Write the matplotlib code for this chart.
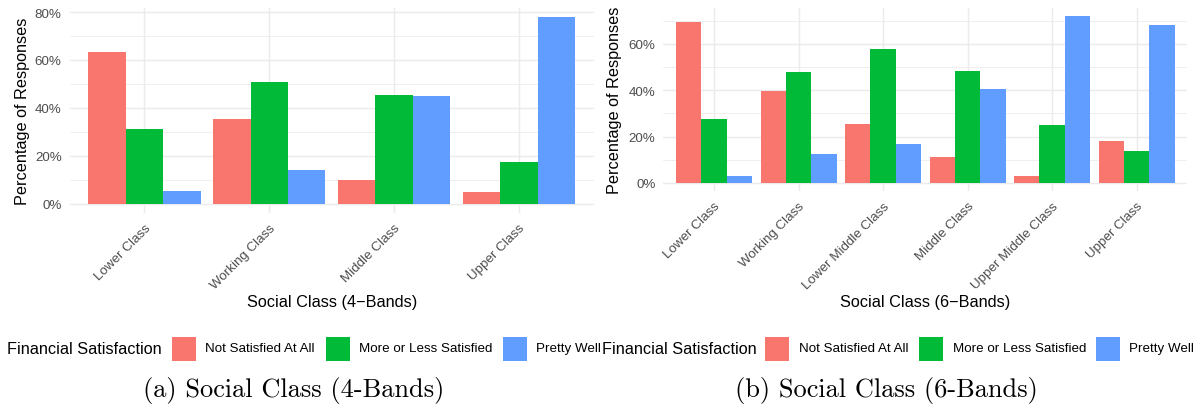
import matplotlib
matplotlib.use("Agg")
import matplotlib.pyplot as plt
from matplotlib.patches import Rectangle
import numpy as np

# ---- data -------------------------------------------------------------
satisfaction_levels = ["Not Satisfied At All", "More or Less Satisfied", "Pretty Well"]
satisfaction_colors = ["#F8766D", "#00BA38", "#619CFF"]

classes_4 = ["Lower Class", "Working Class", "Middle Class", "Upper Class"]
not_satisfied_4 = [63.4, 35.4, 9.9, 4.9]
more_or_less_4 = [31.2, 50.9, 45.4, 17.4]
pretty_well_4 = [5.3, 14.1, 45.0, 78.0]

classes_6 = ["Lower Class", "Working Class", "Lower Middle Class",
             "Middle Class", "Upper Middle Class", "Upper Class"]
not_satisfied_6 = [69.5, 39.7, 25.5, 11.2, 3.0, 18.1]
more_or_less_6 = [27.6, 47.9, 57.8, 48.3, 25.0, 13.8]
pretty_well_6 = [3.0, 12.5, 16.8, 40.6, 72.1, 68.2]

legend_title = "Financial Satisfaction"
y_title = "Percentage of Responses"
x_title_4 = "Social Class (4\u2212Bands)"
x_title_6 = "Social Class (6\u2212Bands)"
caption_4 = "(a) Social Class (4-Bands)"
caption_6 = "(b) Social Class (6-Bands)"

# ---- style -----------------------------------------------------------
W, H = 1204, 410
SANS = "Liberation Sans"
TICK_PT = 9.6
TITLE_PT = 11.7
CAPTION_PT = 19.0
GRID = "#EBEBEB"

fig = plt.figure(figsize=(W / 100, H / 100), dpi=100)
fig.patch.set_facecolor("white")


def fx(x):
    return x / W


def fy(y):
    return 1 - y / H


def add_panel(left, top, right, bottom):
    return fig.add_axes([fx(left), fy(bottom), fx(right - left), (bottom - top) / H])


def draw_bars(ax, categories, series, yticks):
    n = len(categories)
    x = np.arange(1, n + 1)
    width = 0.3
    offsets = [-width, 0.0, width]
    for vals, col, off in zip(series, satisfaction_colors, offsets):
        ax.bar(x + off, vals, width=width, color=col, linewidth=0, zorder=3)

    ymax = max(max(s) for s in series)
    ax.set_ylim(-0.05 * ymax, 1.05 * ymax)
    ax.set_xlim(0.4, n + 0.6)

    ax.set_xticks(x)
    ax.set_xticklabels(categories, rotation=45, ha="right", va="top",
                       rotation_mode="anchor", fontsize=TICK_PT,
                       family=SANS, color="#4D4D4D")
    ax.set_yticks(yticks)
    ax.set_yticklabels([f"{t}%" for t in yticks], fontsize=TICK_PT,
                       family=SANS, color="#4D4D4D")
    minor = [t + 10 for t in yticks if t + 10 <= 1.05 * ymax]
    ax.set_yticks(minor, minor=True)

    ax.tick_params(axis="both", which="both", length=0)
    ax.tick_params(axis="y", pad=5.6)
    ax.tick_params(axis="x", pad=6.0)

    ax.grid(True, which="major", axis="both", color=GRID, linewidth=1.05, zorder=0)
    ax.grid(True, which="minor", axis="y", color=GRID, linewidth=0.55, zorder=0)
    ax.set_axisbelow(True)
    for s in ax.spines.values():
        s.set_visible(False)
    ax.set_facecolor("white")


# left panel: four bands
ax1 = add_panel(69.5, 8.5, 593.8, 214.0)
draw_bars(ax1, classes_4, [not_satisfied_4, more_or_less_4, pretty_well_4],
          [0, 20, 40, 60, 80])

# right panel: six bands
ax2 = add_panel(663.3, 8.6, 1187.4, 192.3)
draw_bars(ax2, classes_6, [not_satisfied_6, more_or_less_6, pretty_well_6],
          [0, 20, 40, 60])

# axis titles
fig.text(fx(22.5), fy(111), y_title, rotation=90, ha="center", va="center",
         fontsize=TITLE_PT, family=SANS, color="black")
fig.text(fx(615), fy(100.5), y_title, rotation=90, ha="center", va="center",
         fontsize=TITLE_PT, family=SANS, color="black")
fig.text(fx(331.7), fy(302.3), x_title_4, ha="center", va="center",
         fontsize=TITLE_PT, family=SANS, color="black")
fig.text(fx(925.3), fy(302.7), x_title_6, ha="center", va="center",
         fontsize=TITLE_PT, family=SANS, color="black")


# legends drawn beneath each panel
def draw_legend(title_x, key_xs, label_xs, yc):
    fig.text(fx(title_x), fy(yc), legend_title, ha="left", va="center",
             fontsize=TITLE_PT, family=SANS, color="black")
    for kx, lx, col, lab in zip(key_xs, label_xs, satisfaction_colors, satisfaction_levels):
        fig.patches.append(Rectangle((fx(kx), fy(yc + 12)), 24 / W, 24 / H,
                                     transform=fig.transFigure, facecolor=col,
                                     edgecolor="none"))
        fig.text(fx(lx), fy(yc - 1), lab, ha="left", va="center",
                 fontsize=TICK_PT, family=SANS, color="black")


draw_legend(7.3, [172, 326, 503], [204.7, 359.3, 536.3], 349.7)
draw_legend(601.7, [765.3, 919, 1096], [798.7, 952.7, 1129.3], 349.7)

# sub-figure captions
fig.text(fx(294), fy(391), caption_4, ha="center", va="center",
         fontsize=CAPTION_PT, family="cmr10", color="black")
fig.text(fx(886.7), fy(391), caption_6, ha="center", va="center",
         fontsize=CAPTION_PT, family="cmr10", color="black")

fig.savefig("out.png", dpi=100, facecolor="white")
